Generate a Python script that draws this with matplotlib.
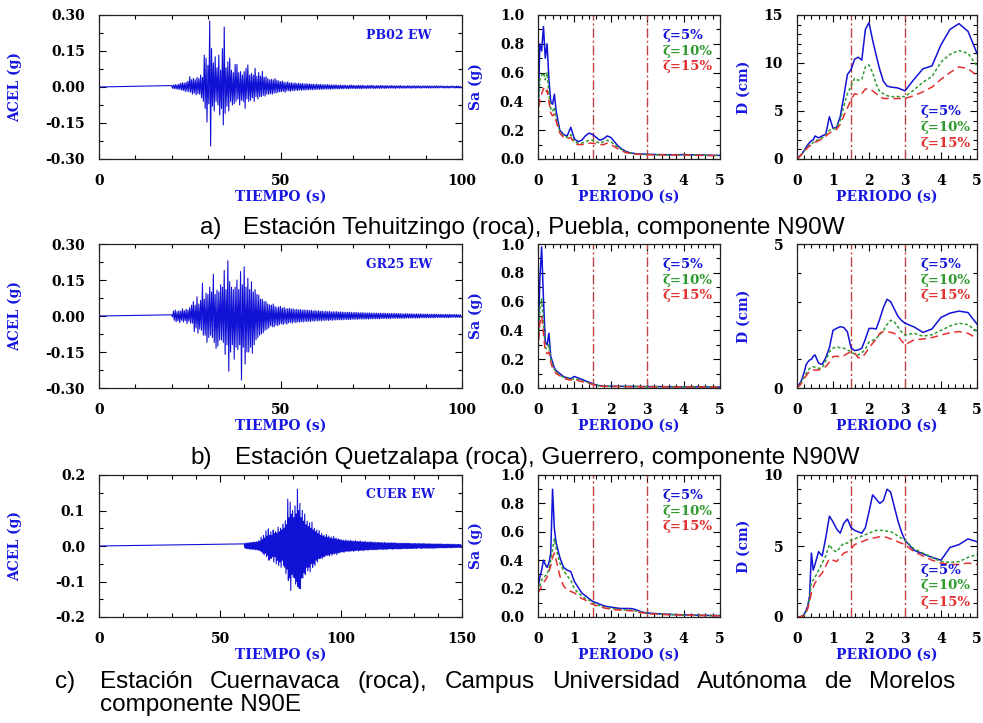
import matplotlib
matplotlib.use("Agg")
import matplotlib.pyplot as plt
import numpy as np
from matplotlib.ticker import MultipleLocator, FormatStrFormatter

# Accelerograms: alternating peak / trough values sampled every DT seconds
# starting at the onset time of each record (g); one row = 2 s
DT = 0.25

PB02_ONSET = 20.0
PB02_ACC = [
    .006, -.005, .008, -.007, .010, -.008, .009, -.010,
    .012, -.010, .015, -.013, .018, -.014, .016, -.018,
    .020, -.018, .024, -.020, .043, -.022, .030, -.030,
    .036, -.025, .030, -.033, .040, -.028, .035, -.030,
    .050, -.045, .040, -.060, .133, -.090, .120, -.146,
    .090, -.070, .275, -.246, .160, -.080, .100, -.100,
    .126, -.060, .080, -.075, .133, -.117, .070, -.090,
    .160, -.158, .250, -.110, .080, -.080, .105, -.100,
    .120, -.060, .070, -.075, .060, -.070, .094, -.060,
    .094, -.050, .060, -.075, .064, -.055, .050, -.060,
    .064, -.089, .078, -.050, .092, -.060, .050, -.055,
    .057, -.045, .050, -.060, .078, -.040, .045, -.050,
    .060, -.040, .045, -.040, .065, -.035, .040, -.038,
    .043, -.030, .035, -.030, .030, -.028, .032, -.030,
    .030, -.025, .035, -.025, .028, -.022, .025, -.020,
    .022, -.020, .025, -.018, .020, -.022, .018, -.016,
    .022, -.015, .016, -.018, .018, -.014, .015, -.016,
    .017, -.013, .014, -.015, .016, -.012, .013, -.014,
    .015, -.012, .012, -.013, .014, -.011, .012, -.012,
    .013, -.010, .011, -.012, .012, -.010, .010, -.011,
    .012, -.009, .010, -.010, .011, -.009, .009, -.010,
    .010, -.008, .009, -.009, .010, -.008, .008, -.009,
    .009, -.008, .008, -.008, .009, -.007, .008, -.008,
    .007, -.007, .008, -.007, .007, -.008, .008, -.006,
    .007, -.007, .006, -.007, .007, -.006, .008, -.007,
    .007, -.006, .006, -.007, .006, -.006, .007, -.006,
    .006, -.007, .007, -.006, .006, -.006, .005, -.006,
    .006, -.005, .006, -.006, .007, -.005, .006, -.006,
    .005, -.006, .006, -.005, .005, -.006, .006, -.005,
    .006, -.005, .005, -.006, .006, -.005, .005, -.005,
    .005, -.005, .006, -.005, .005, -.005, .005, -.006,
    .005, -.004, .005, -.005, .006, -.005, .004, -.005,
    .005, -.005, .004, -.005, .005, -.004, .005, -.005,
    .004, -.005, .005, -.004, .005, -.005, .004, -.004,
    .005, -.004, .004, -.005, .004, -.004, .005, -.004,
    .004, -.004, .005, -.004, .004, -.005, .004, -.004,
    .004, -.004, .004, -.004, .005, -.004, .004, -.004,
    .004, -.003, .004, -.004, .004, -.004, .003, -.004,
    .004, -.004, .003, -.004, .004, -.003, .004, -.004,
    .003, -.004, .004, -.003, .004, -.004, .003, -.003,
]

GR25_ONSET = 20.0
GR25_ACC = [
    .005, -.004, .020, -.018, .025, -.024, .018, -.020,
    .022, -.028, .020, -.018, .030, -.025, .022, -.020,
    .028, -.032, .025, -.022, .035, -.030, .045, -.030,
    .060, -.065, .045, -.050, .080, -.072, .050, -.055,
    .065, -.060, .136, -.080, .070, -.080, .095, -.110,
    .090, -.090, .120, -.080, .100, -.090, .174, -.110,
    .090, -.135, .108, -.125, .100, -.100, .130, -.100,
    .120, -.110, .190, -.160, .110, -.120, .230, -.230,
    .143, -.150, .120, -.120, .110, -.180, .120, -.130,
    .150, -.140, .110, -.120, .185, -.267, .130, -.130,
    .205, -.200, .120, -.150, .157, -.150, .110, -.130,
    .143, -.155, .100, -.120, .110, -.100, .090, -.090,
    .087, -.080, .070, -.075, .070, -.070, .060, -.060,
    .060, -.055, .050, -.050, .046, -.040, .045, -.045,
    .050, -.045, .040, -.038, .035, -.040, .038, -.035,
    .040, -.032, .032, -.036, .036, -.030, .030, -.034,
    .030, -.028, .032, -.026, .028, -.030, .030, -.025,
    .026, -.028, .028, -.024, .025, -.026, .027, -.023,
    .024, -.025, .026, -.022, .023, -.024, .025, -.021,
    .022, -.023, .024, -.020, .021, -.022, .023, -.019,
    .020, -.021, .022, -.018, .019, -.020, .021, -.018,
    .018, -.019, .020, -.017, .018, -.019, .019, -.016,
    .017, -.018, .018, -.016, .017, -.017, .018, -.015,
    .016, -.016, .017, -.015, .016, -.016, .016, -.014,
    .015, -.015, .016, -.014, .015, -.015, .015, -.013,
    .014, -.014, .015, -.013, .014, -.014, .014, -.012,
    .013, -.013, .014, -.012, .013, -.013, .013, -.012,
    .012, -.013, .013, -.011, .012, -.012, .012, -.011,
    .012, -.012, .012, -.011, .011, -.012, .012, -.010,
    .011, -.011, .012, -.010, .011, -.011, .011, -.010,
    .010, -.011, .011, -.009, .010, -.010, .011, -.009,
    .010, -.010, .010, -.009, .010, -.010, .009, -.009,
    .009, -.010, .010, -.008, .009, -.009, .009, -.008,
    .009, -.009, .009, -.008, .008, -.009, .009, -.008,
    .008, -.009, .009, -.007, .008, -.008, .008, -.007,
    .008, -.008, .008, -.007, .007, -.008, .008, -.007,
    .007, -.008, .008, -.006, .007, -.007, .007, -.006,
    .007, -.007, .007, -.006, .006, -.007, .007, -.006,
    .006, -.007, .007, -.006, .006, -.006, .006, -.005,
    .006, -.006, .006, -.005, .005, -.006, .006, -.005,
]

CUER_ONSET = 60.0
CUER_ACC = [
    .006, -.005, .008, -.007, .007, -.008, .009, -.007,
    .008, -.009, .010, -.008, .009, -.010, .010, -.009,
    .011, -.009, .010, -.011, .012, -.010, .011, -.012,
    .015, -.012, .013, -.014, .025, -.015, .018, -.020,
    .030, -.025, .022, -.020, .043, -.030, .028, -.025,
    .048, -.040, .030, -.035, .040, -.035, .030, -.030,
    .045, -.045, .035, -.030, .040, -.050, .035, -.040,
    .053, -.055, .040, -.045, .050, -.060, .045, -.040,
    .062, -.055, .050, -.060, .071, -.078, .060, -.065,
    .132, -.097, .080, -.090, .123, -.125, .090, -.080,
    .100, -.088, .080, -.090, .113, -.107, .090, -.100,
    .160, -.115, .100, -.120, .120, -.120, .080, -.090,
    .100, -.090, .070, -.075, .090, -.080, .060, -.060,
    .070, -.070, .055, -.060, .065, -.073, .050, -.050,
    .067, -.060, .045, -.050, .050, -.055, .040, -.040,
    .045, -.045, .035, -.035, .043, -.036, .030, -.032,
    .035, -.035, .028, -.030, .030, -.030, .025, -.026,
    .032, -.027, .024, -.025, .028, -.028, .022, -.022,
    .025, -.026, .020, -.022, .027, -.022, .020, -.020,
    .022, -.024, .018, -.019, .020, -.020, .017, -.017,
    .018, -.017, .015, -.016, .016, -.018, .014, -.015,
    .017, -.015, .014, -.014, .015, -.016, .013, -.014,
    .016, -.014, .013, -.013, .014, -.015, .012, -.013,
    .015, -.013, .012, -.012, .013, -.014, .012, -.012,
    .014, -.012, .011, -.012, .012, -.013, .011, -.011,
    .013, -.011, .010, -.011, .011, -.012, .010, -.010,
    .012, -.010, .010, -.010, .011, -.011, .009, -.010,
    .011, -.010, .009, -.010, .010, -.010, .009, -.009,
    .010, -.009, .009, -.009, .010, -.010, .008, -.009,
    .010, -.009, .008, -.009, .009, -.009, .008, -.008,
    .009, -.008, .008, -.008, .009, -.009, .008, -.008,
    .009, -.008, .008, -.008, .008, -.008, .007, -.008,
    .008, -.008, .007, -.008, .008, -.008, .007, -.007,
    .008, -.007, .007, -.007, .008, -.008, .007, -.007,
    .008, -.007, .007, -.007, .007, -.007, .006, -.007,
    .007, -.007, .007, -.006, .007, -.007, .006, -.006,
    .007, -.006, .006, -.006, .007, -.007, .006, -.006,
    .007, -.006, .006, -.006, .006, -.006, .006, -.006,
    .006, -.006, .006, -.006, .006, -.006, .005, -.006,
    .006, -.006, .005, -.006, .006, -.006, .005, -.005,
    .006, -.005, .005, -.005, .006, -.005, .005, -.005,
    .005, -.005, .005, -.005, .005, -.005, .005, -.005,
    .005, -.005, .005, -.004, .005, -.005, .004, -.005,
    .005, -.004, .004, -.005, .005, -.004, .004, -.004,
    .004, -.004, .005, -.004, .004, -.004, .004, -.004,
]

# Response spectra (periods in s)
PERIODS = [0, .05, .1, .15, .2, .25, .3, .35, .4, .45, .5,
           .6, .7, .8, .9, 1.0, 1.1, 1.2, 1.3, 1.4, 1.5, 1.6, 1.7, 1.8, 1.9,
           2.0, 2.1, 2.2, 2.3, 2.4, 2.5, 2.6, 2.7, 2.8, 2.9, 3.0,
           3.25, 3.5, 3.75, 4.0, 4.25, 4.5, 4.75, 5.0]

# pseudo-acceleration Sa (g) for damping 5, 10 and 15 %
PB02_SA_5 = [.28, .80, .75, .92, .70, .80, .55, .40, .38, .45, .33,
             .20, .17, .16, .22, .14, .12, .13, .16, .18, .17, .15, .13, .14, .16,
             .15, .12, .09, .07, .055, .045, .04, .037, .035, .034, .033,
             .031, .030, .030, .030, .029, .028, .026, .025]
PB02_SA_10 = [.28, .55, .58, .60, .55, .60, .45, .35, .33, .36, .28,
              .19, .16, .15, .17, .12, .11, .11, .12, .13, .13, .12, .11, .12, .13,
              .12, .10, .08, .065, .05, .042, .038, .035, .033, .031, .030,
              .029, .028, .028, .028, .027, .026, .025, .024]
PB02_SA_15 = [.28, .42, .45, .49, .46, .48, .40, .32, .30, .31, .26,
              .18, .15, .14, .15, .11, .10, .10, .105, .11, .11, .105, .10, .10, .11,
              .10, .085, .07, .057, .045, .04, .036, .033, .032, .030, .030,
              .028, .027, .027, .027, .026, .025, .024, .023]

GR25_SA_5 = [.26, .75, .98, .62, .32, .30, .38, .22, .18, .14, .12,
             .10, .08, .07, .065, .08, .07, .06, .05, .04, .03, .02, .016, .014, .013,
             .012, .012, .012, .012, .011, .011, .011, .011, .010, .010, .010,
             .010, .009, .009, .008, .008, .008, .007, .007]
GR25_SA_10 = [.25, .55, .62, .45, .28, .27, .30, .20, .16, .13, .11,
              .09, .075, .065, .06, .065, .06, .05, .045, .035, .027, .019, .015, .013, .012,
              .011, .011, .011, .011, .010, .010, .010, .010, .010, .009, .009,
              .009, .008, .008, .008, .007, .007, .007, .007]
GR25_SA_15 = [.25, .45, .50, .38, .25, .24, .25, .18, .14, .12, .10,
              .085, .07, .06, .055, .058, .052, .045, .04, .032, .025, .018, .014, .012, .011,
              .010, .010, .010, .010, .009, .009, .009, .009, .009, .008, .008,
              .008, .008, .007, .007, .007, .006, .006, .006]

CUER_SA_5 = [.20, .28, .33, .40, .37, .35, .38, .45, .90, .62, .52,
             .42, .35, .33, .32, .25, .21, .17, .15, .13, .11, .10, .09, .08, .073,
             .07, .066, .062, .06, .06, .06, .058, .05, .04, .033, .028,
             .024, .02, .017, .015, .013, .012, .011, .01]
CUER_SA_10 = [.18, .22, .26, .28, .29, .30, .34, .40, .48, .55, .48,
              .38, .33, .29, .26, .20, .17, .15, .13, .12, .10, .09, .08, .07, .065,
              .06, .058, .055, .052, .05, .05, .048, .042, .035, .03, .025,
              .021, .018, .016, .014, .012, .011, .010, .009]
CUER_SA_15 = [.17, .19, .22, .24, .26, .28, .32, .36, .42, .45, .40,
              .29, .22, .19, .18, .17, .15, .13, .12, .10, .09, .08, .075, .065, .06,
              .055, .052, .05, .048, .046, .045, .043, .038, .032, .028, .024,
              .02, .017, .015, .013, .012, .010, .009, .008]

# displacement D (cm) for damping 5, 10 and 15 %
PB02_D_5 = [0, .2, .4, .6, .9, 1.2, 1.5, 1.7, 1.9, 2.0, 2.4,
            2.2, 2.4, 2.6, 4.4, 3.2, 3.3, 4.4, 6.5, 8.8, 9.3, 10.4, 10.6, 10.3, 13.5,
            14.2, 12.4, 10.8, 9.3, 8.1, 7.6, 7.5, 7.45, 7.4, 7.25, 7.1,
            8.3, 9.4, 9.7, 11.9, 13.5, 14.1, 13.3, 11.0]
PB02_D_10 = [0, .2, .4, .6, .8, 1.1, 1.3, 1.5, 1.6, 1.7, 1.9,
             2.0, 2.2, 2.5, 3.0, 3.1, 3.3, 4.0, 5.5, 6.8, 7.6, 8.4, 8.2, 8.3, 9.6,
             9.8, 9.0, 7.8, 7.0, 6.8, 6.6, 6.5, 6.5, 6.5, 6.5, 6.5,
             7.2, 8.0, 8.6, 10.1, 10.9, 11.3, 11.0, 9.7]
PB02_D_15 = [0, .15, .35, .55, .75, 1.0, 1.2, 1.35, 1.5, 1.6, 1.75,
             1.9, 2.1, 2.4, 2.7, 2.9, 3.1, 3.6, 4.5, 5.3, 6.2, 6.8, 6.7, 6.8, 7.3,
             7.3, 7.1, 6.8, 6.5, 6.3, 6.3, 6.3, 6.3, 6.3, 6.3, 6.3,
             6.6, 7.0, 7.5, 8.3, 9.0, 9.6, 9.4, 8.7]

GR25_D_5 = [0, .1, .2, .35, .55, .8, .9, .97, 1.0, 1.1, 1.15,
            .86, .82, 1.05, 1.4, 2.0, 2.07, 2.13, 2.1, 1.95, 1.4, 1.3, 1.32, 1.38, 1.7,
            2.07, 2.07, 2.05, 2.4, 2.8, 3.08, 3.0, 2.75, 2.5, 2.35, 2.25,
            2.12, 1.93, 2.05, 2.45, 2.6, 2.67, 2.62, 2.22]
GR25_D_10 = [0, .08, .15, .28, .39, .5, .6, .68, .72, .74, .72,
             .68, .70, .95, 1.26, 1.38, 1.43, 1.40, 1.38, 1.32, 1.26, 1.18, 1.15, 1.22, 1.35,
             1.6, 1.65, 1.72, 1.85, 2.0, 2.2, 2.35, 2.3, 2.13, 1.95, 1.84,
             1.9, 1.8, 1.85, 2.0, 2.15, 2.25, 2.2, 1.96]
GR25_D_15 = [0, .06, .12, .22, .32, .42, .5, .56, .6, .62, .62,
             .62, .68, .74, .9, 1.09, 1.1, 1.09, 1.12, 1.2, 1.25, 1.22, 1.05, 1.05, 1.2,
             1.4, 1.55, 1.7, 1.9, 1.96, 1.96, 1.93, 1.9, 1.8, 1.65, 1.5,
             1.67, 1.7, 1.75, 1.84, 1.92, 1.96, 1.9, 1.72]

CUER_D_5 = [0, 0, .03, .08, .2, .45, .8, 1.5, 4.5, 3.3, 3.7,
            4.6, 4.3, 5.6, 7.1, 6.7, 6.2, 5.9, 6.6, 6.9, 6.3, 6.1, 6.0, 5.9, 6.3,
            7.4, 8.6, 8.3, 8.0, 8.2, 9.0, 8.8, 7.8, 6.8, 6.0, 5.4,
            4.7, 4.45, 4.2, 4.0, 4.9, 5.1, 5.5, 5.3]
CUER_D_10 = [0, 0, .02, .06, .15, .35, .7, 1.3, 2.5, 2.6, 2.8,
             3.3, 3.8, 4.3, 5.1, 4.7, 4.6, 4.9, 5.2, 5.2, 5.4, 5.5, 5.6, 5.7, 5.8,
             5.9, 6.0, 6.1, 6.1, 6.1, 6.05, 6.0, 5.9, 5.7, 5.55, 5.4,
             4.8, 4.5, 4.2, 3.9, 3.85, 3.9, 4.2, 4.4]
CUER_D_15 = [0, 0, .02, .05, .12, .3, .6, 1.1, 1.7, 2.1, 2.4,
             2.8, 3.1, 3.6, 4.1, 4.0, 3.9, 4.2, 4.5, 4.6, 4.8, 5.1, 5.2, 5.3, 5.4,
             5.5, 5.55, 5.6, 5.65, 5.65, 5.6, 5.5, 5.4, 5.3, 5.2, 5.1,
             4.6, 4.3, 4.0, 3.8, 3.7, 3.7, 3.8, 3.7]

DAMPING_LABELS = ["ζ=5%", "ζ=10%", "ζ=15%"]
PERIOD_MARKS = [1.5, 3.0]

CAPTION_A = "Estación Tehuitzingo (roca), Puebla, componente N90W"
CAPTION_B = "Estación Quetzalapa (roca), Guerrero, componente N90W"
CAPTION_C1 = "Estación Cuernavaca (roca), Campus Universidad Autónoma de Morelos"
CAPTION_C2 = "componente N90E"

BLUE = "#1212d6"
GREEN = "#2e9a2e"
RED = "#e23030"
MARK_RED = "#c04444"
TXT_BLUE = "#1818e0"

plt.rcParams["font.family"] = ["DejaVu Serif"]
plt.rcParams["font.weight"] = "bold"
plt.rcParams["axes.unicode_minus"] = True

W, H = 983, 723
fig = plt.figure(figsize=(W / 100, H / 100), dpi=100)

BOLD = dict(fontfamily="DejaVu Serif", fontweight="bold")


def add_axes(x0, y0, x1, y1):
    # pixel box -> figure fraction
    return fig.add_axes([x0 / W, 1 - y1 / H, (x1 - x0) / W, (y1 - y0) / H])


def style(ax):
    ax.tick_params(which="both", direction="in", top=True, right=True,
                   width=0.8)
    ax.tick_params(which="major", length=5)
    ax.tick_params(which="minor", length=3)
    ax.tick_params(axis="x", pad=11)
    ax.tick_params(axis="y", pad=10)
    for lab in ax.get_xticklabels() + ax.get_yticklabels():
        lab.set_fontweight("bold")
        lab.set_fontsize(10)
    for s in ax.spines.values():
        s.set_linewidth(0.9)
        s.set_color("#222222")


def labels(ax, xlabel, ylabel, ylab_x):
    ax.set_xlabel(xlabel, color=TXT_BLUE, fontsize=10, **BOLD)
    ax.set_ylabel(ylabel, color=TXT_BLUE, fontsize=10, **BOLD)
    ax.xaxis.set_label_coords(0.5, -0.215)
    ax.yaxis.set_label_coords(ylab_x, 0.5)


def accel_panel(box, onset, acc, tmax, ylim, ystep, yfmt, name):
    ax = add_axes(*box)
    t = np.concatenate([[0.0], onset + DT * np.arange(len(acc))])
    a = np.concatenate([[0.0], acc])
    ax.plot(t, a, color=BLUE, lw=0.8)
    ax.set_xlim(0, tmax)
    ax.set_ylim(-ylim, ylim)
    ax.xaxis.set_major_locator(MultipleLocator(50))
    ax.xaxis.set_minor_locator(MultipleLocator(10))
    ax.yaxis.set_major_locator(MultipleLocator(ystep))
    ax.yaxis.set_minor_locator(MultipleLocator(ystep / 2))
    ax.yaxis.set_major_formatter(FormatStrFormatter(yfmt))
    style(ax)
    labels(ax, "TIEMPO (s)", "ACEL (g)", -0.212)
    ax.text(0.735, 0.86, name, color=TXT_BLUE, fontsize=9,
            transform=ax.transAxes, va="center", **BOLD)
    return ax


def spectrum_panel(box, curves, ymax, ymajor, yminor, yfmt, ylabel, ylab_x,
                   legend_y):
    ax = add_axes(*box)
    for tp in PERIOD_MARKS:
        ax.axvline(tp, color=MARK_RED, lw=1.0, ls=(0, (7, 2, 1.5, 2)))
    styles = [dict(color=BLUE, lw=1.1, ls="-"),
              dict(color=GREEN, lw=1.1, ls=(0, (2, 1.5))),
              dict(color=RED, lw=1.1, ls=(0, (5, 3)))]
    for vals, st in zip(curves, styles):
        ax.plot(PERIODS, vals, **st)
    ax.set_xlim(0, 5)
    ax.set_ylim(0, ymax)
    ax.xaxis.set_major_locator(MultipleLocator(1))
    ax.xaxis.set_minor_locator(MultipleLocator(0.2))
    ax.yaxis.set_major_locator(MultipleLocator(ymajor))
    ax.yaxis.set_minor_locator(MultipleLocator(yminor))
    ax.yaxis.set_major_formatter(FormatStrFormatter(yfmt))
    style(ax)
    labels(ax, "PERIODO (s)", ylabel, ylab_x)
    for lab, col, y in zip(DAMPING_LABELS, [BLUE, GREEN, RED], legend_y):
        ax.text(0.685, y, lab, color=col, fontsize=9.5,
                transform=ax.transAxes, va="center", **BOLD)
    return ax


def sa_panel(box, curves, legend_y):
    return spectrum_panel(box, curves, 1.0, 0.2, 0.1, "%.1f", "Sa (g)",
                          -0.30, legend_y)


def d_panel(box, curves, ymax, legend_y):
    return spectrum_panel(box, curves, ymax, 5, 1, "%d", "D (cm)", -0.26,
                          legend_y)


UPPER = [0.855, 0.745, 0.64]
LOWER = [0.33, 0.22, 0.105]

rows = [(15, 159), (244, 388), (475, 617)]

# row a
y0, y1 = rows[0]
accel_panel((99, y0, 462, y1), PB02_ONSET, PB02_ACC, 100, 0.30, 0.15, "%.2f",
            "PB02 EW")
sa_panel((538, y0, 720, y1), [PB02_SA_5, PB02_SA_10, PB02_SA_15], UPPER)
d_panel((797, y0, 977, y1), [PB02_D_5, PB02_D_10, PB02_D_15], 15, LOWER)

# row b
y0, y1 = rows[1]
accel_panel((99, y0, 462, y1), GR25_ONSET, GR25_ACC, 100, 0.30, 0.15, "%.2f",
            "GR25 EW")
sa_panel((538, y0, 720, y1), [GR25_SA_5, GR25_SA_10, GR25_SA_15], UPPER)
d_panel((797, y0, 977, y1), [GR25_D_5, GR25_D_10, GR25_D_15], 5, UPPER)

# row c
y0, y1 = rows[2]
accel_panel((99, y0, 462, y1), CUER_ONSET, CUER_ACC, 150, 0.2, 0.1, "%.1f",
            "CUER EW")
sa_panel((538, y0, 720, y1), [CUER_SA_5, CUER_SA_10, CUER_SA_15], UPPER)
d_panel((797, y0, 977, y1), [CUER_D_5, CUER_D_10, CUER_D_15], 10, LOWER)

# captions
cap = dict(fontfamily="Liberation Sans", fontweight="normal", fontsize=17.5,
           va="center", color="black")
fig.text(200 / W, 1 - 228 / H, "a)", **cap)
fig.text(243 / W, 1 - 228 / H, CAPTION_A, **cap)
fig.text(190 / W, 1 - 458 / H, "b)", **cap)
fig.text(235 / W, 1 - 458 / H, CAPTION_B, **cap)
fig.text(55 / W, 1 - 682 / H, "c)", **cap)
fig.text(100 / W, 1 - 705 / H, CAPTION_C2, **cap)

# justified first line of caption c
words = CAPTION_C1.split()
word_texts = [fig.text(0, 1 - 682 / H, w, **cap) for w in words]
renderer = fig.canvas.get_renderer()
widths = [t.get_window_extent(renderer).width for t in word_texts]
left, right = 100, 955
gap = (right - left - sum(widths)) / (len(words) - 1)
x = left
for t, w in zip(word_texts, widths):
    t.set_x(x / W)
    x += w + gap

fig.savefig("out.png", dpi=100, facecolor="white")
